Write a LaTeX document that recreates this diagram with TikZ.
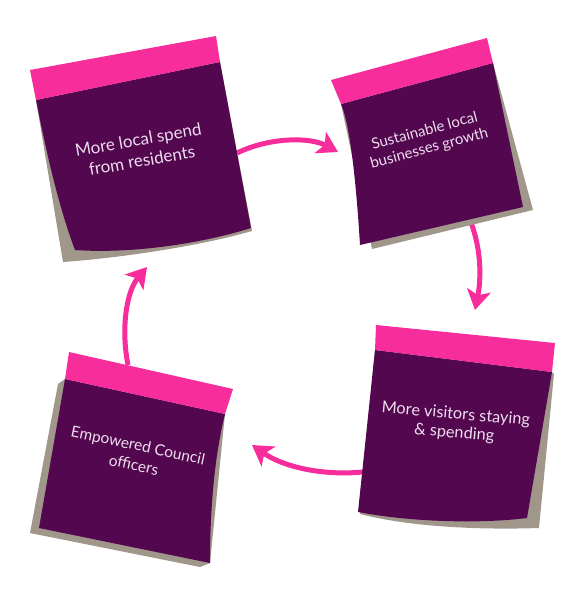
\documentclass[tikz,border=0pt]{standalone}
\usepackage{fontspec}
\setmainfont{Lato}
\usetikzlibrary{arrows.meta}
\definecolor{pinkband}{HTML}{F72D9B}
\definecolor{notepurple}{HTML}{52074F}
\definecolor{shadowgray}{HTML}{A0968A}
\definecolor{notetext}{HTML}{EEDDEE}
\begin{document}
\begin{tikzpicture}[x=1pt,y=-1pt,
  shadowpart/.style={fill=shadowgray},
  bodypart/.style={fill=notepurple},
  bandpart/.style={fill=pinkband},
  notelabel/.style={text=notetext, align=center, inner sep=0pt},
  flow/.style={draw=pinkband, line width=5pt,
    -{Stealth[length=20pt,width=24pt,inset=5pt]}}]
\useasboundingbox (0,0) rectangle (574,598);

% connector end points
\coordinate (a1s) at (237,153);
\coordinate (a1e) at (338,152);
\coordinate (a2s) at (470,220);
\coordinate (a2e) at (475,310);
\coordinate (a3s) at (363,472);
\coordinate (a3e) at (252,445);
\coordinate (a4s) at (128,365);
\coordinate (a4e) at (147,267);

% connectors (under the notes)
\draw[flow] (a1s) .. controls (270,137) and (310,137) .. (a1e);
\draw[flow] (a2s) .. controls (482,250) and (481,280) .. (a2e);
\draw[flow] (a3s) .. controls (320,476) and (282,466) .. (a3e);
\draw[flow] (a4s) .. controls (121,330) and (126,292) .. (a4e);

% note 1
\fill[shadowpart] (36,100) -- (220,62) -- (252,231)
  .. controls (200,246) and (120,258) .. (63,262) -- cycle;
\fill[bodypart] (36,100) -- (220,62) -- (251,228)
  .. controls (200,244) and (130,254) .. (75,250)
  .. controls (58,205) and (46,150) .. (36,100) -- cycle;
\fill[bandpart] (30,70) -- (216,36) -- (220,62) -- (36,100) -- cycle;
\node[notelabel, rotate=10, font=\fontsize{17}{21}\selectfont] (t1) at (140,150)
  {More local spend\\from residents};

% note 2
\fill[shadowpart] (341,104) -- (493,63) -- (533,210) -- (372,249) -- cycle;
\fill[bodypart] (341,104) -- (493,63) -- (523,207) -- (360,245)
  .. controls (356,180) and (350,125) .. (341,104) -- cycle;
\fill[bandpart] (331,80) -- (487,38) -- (493,63) -- (341,104) -- cycle;
\node[notelabel, rotate=15, font=\fontsize{15}{18}\selectfont] (t2) at (427,140)
  {Sustainable local\\businesses growth};

% note 3
\fill[shadowpart] (375,350) -- (552,372) -- (554,374) -- (539,528)
  .. controls (480,530) and (410,527) .. (360,514) -- cycle;
\fill[bodypart] (375,350) -- (552,372) -- (527,518)
  .. controls (480,524) and (410,522) .. (358,512) -- cycle;
\fill[bandpart] (376,325) -- (555,343) -- (552,372) -- (375,350) -- cycle;
\node[notelabel, rotate=-5, font=\fontsize{16.3}{19}\selectfont] (t3) at (455,424)
  {More visitors staying\\\& spending};

% note 4
\fill[shadowpart] (65,379) -- (225,414) -- (210,563) -- (200,567)
  -- (30,533) -- (58,384) -- cycle;
\fill[bodypart] (65,379) -- (225,414)
  .. controls (216,450) and (210,500) .. (210,563) -- (39,528) -- cycle;
\fill[bandpart] (69,352) -- (233,389) -- (225,414) -- (65,379) -- cycle;
\node[notelabel, rotate=-12, font=\fontsize{15.5}{20}\selectfont] (t4) at (136,455)
  {Empowered Council\\officers};
\end{tikzpicture}
\end{document}
